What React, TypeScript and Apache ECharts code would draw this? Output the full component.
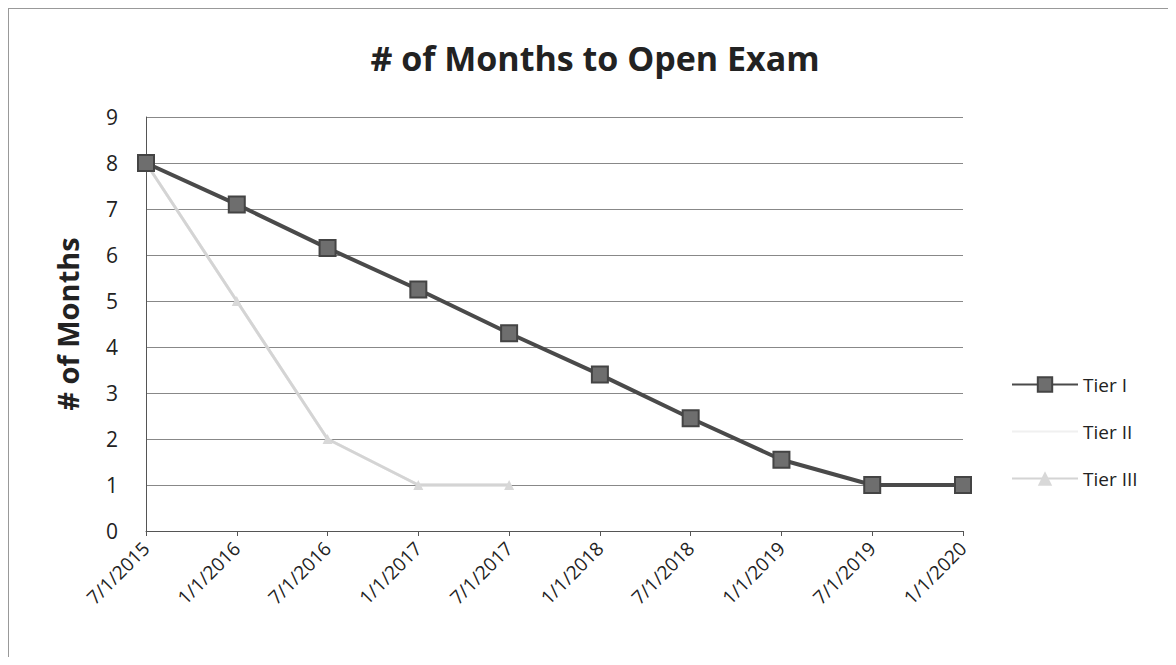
import React, { useEffect, useRef } from "react";
import * as echarts from "echarts";

const categories = ["7/1/2015", "1/1/2016", "7/1/2016", "1/1/2017", "7/1/2017", "1/1/2018", "7/1/2018", "1/1/2019", "7/1/2019", "1/1/2020"];
const tier1 = [8, 7.1, 6.15, 5.25, 4.3, 3.4, 2.45, 1.55, 1, 1];
const tier2 = [8, 5, 2, 1, 1, null, null, null, null, null];
const tier3 = [8, 5, 2, 1, 1, null, null, null, null, null];
const yTicks = [0, 9, 1];

export default function App() {
  const ref = useRef<HTMLDivElement>(null);
  useEffect(() => {
    const chart = echarts.init(ref.current!, null, { renderer: "svg" });
    const font = "'Open Sans', 'DejaVu Sans', sans-serif";
    chart.setOption({
      animation: false,
      backgroundColor: "#ffffff",
      title: {
        text: "# of Months to Open Exam",
        left: 582,
        top: 28,
        textAlign: "center",
        textStyle: { fontFamily: font, fontSize: 34, fontWeight: "bold", color: "#222" },
      },
      graphic: [
        { type: "line", shape: { x1: 0, y1: 0.5, x2: 1160, y2: 0.5 }, style: { stroke: "#999", lineWidth: 1 } },
        { type: "line", shape: { x1: 0.5, y1: 0, x2: 0.5, y2: 649 }, style: { stroke: "#999", lineWidth: 1 } },
      ],
      legend: {
        orient: "vertical",
        left: 998,
        top: 362,
        itemWidth: 66,
        itemHeight: 18,
        itemGap: 28,
        textStyle: { fontFamily: font, fontSize: 19, color: "#222" },
        data: [
          { name: "Tier I" },
          { name: "Tier II", itemStyle: { opacity: 0 } },
          { name: "Tier III" },
        ],
      },
      grid: { left: 138, right: 205, top: 109, bottom: 126, containLabel: false },
      xAxis: {
        type: "category",
        data: categories,
        boundaryGap: false,
        axisLine: { lineStyle: { color: "#555" } },
        axisTick: { show: true, alignWithLabel: true, lineStyle: { color: "#555" } },
        axisLabel: { rotate: 45, fontFamily: font, fontSize: 19, color: "#222", margin: 14 },
      },
      yAxis: {
        type: "value",
        min: yTicks[0],
        max: yTicks[1],
        interval: yTicks[2],
        name: "# of Months",
        nameLocation: "middle",
        nameGap: 64,
        nameTextStyle: { fontFamily: font, fontSize: 29, fontWeight: "bold", color: "#222" },
        axisLine: { show: true, lineStyle: { color: "#555" } },
        axisLabel: { fontFamily: font, fontSize: 21, color: "#222", margin: 28 },
        splitLine: { lineStyle: { color: "#888", width: 1 } },
      },
      series: [
        {
          name: "Tier III",
          type: "line",
          data: tier3,
          color: "#d4d4d4",
          lineStyle: { width: 3, color: "#d4d4d4" },
          symbol: "triangle",
          symbolSize: 10,
          itemStyle: { color: "#d8d8d8" },
          z: 2,
        },
        {
          name: "Tier II",
          type: "line",
          data: tier2,
          color: "#f0f0f0",
          lineStyle: { width: 3, color: "#f0f0f0" },
          symbol: "none",
          z: 1,
        },
        {
          name: "Tier I",
          type: "line",
          data: tier1,
          color: "#555555",
          lineStyle: { width: 4, color: "#4a4a4a" },
          symbol: "rect",
          symbolSize: 16,
          itemStyle: { color: "#6e6e6e", borderColor: "#444", borderWidth: 2 },
          z: 3,
        },
      ],
    });
    return () => chart.dispose();
  }, []);
  return <div ref={ref} style={{ width: 1160, height: 649 }} />;
}
